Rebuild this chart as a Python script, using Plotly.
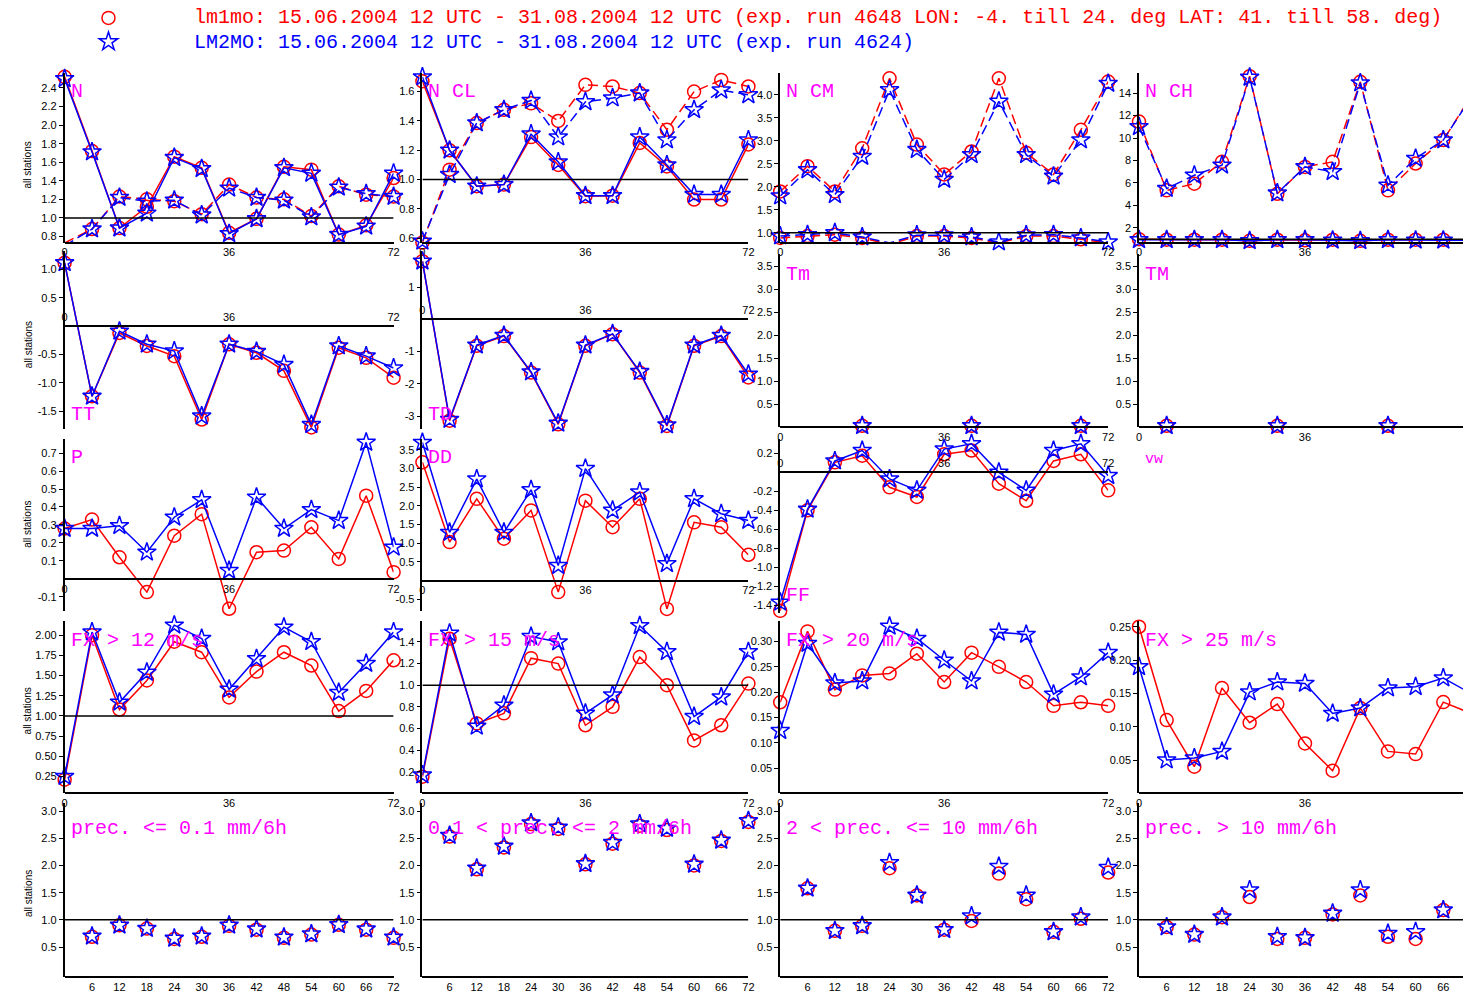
import plotly.graph_objects as go

W, H = 1469, 995
HOURS = [0, 6, 12, 18, 24, 30, 36, 42, 48, 54, 60, 66, 72]
HOURS_PREC = [6, 12, 18, 24, 30, 36, 42, 48, 54, 60, 66, 72]
TMIN_HOURS = [18, 42, 66]
TMAX_HOURS = [6, 30, 54]

HEADER_RED = "lm1mo: 15.06.2004 12 UTC - 31.08.2004 12 UTC (exp. run 4648 LON: -4. till 24. deg LAT: 41. till 58. deg)"
HEADER_BLUE = "LM2MO: 15.06.2004 12 UTC - 31.08.2004 12 UTC (exp. run 4624)"

# ---- data (red = lm1mo, blue = LM2MO) ----
N_red_a = [2.52, 1.72, 0.89, 1.12, 1.66, 1.54, 0.84, 0.99, 1.55, 1.52, 0.82, 0.92, 1.43]
N_blue_a = [2.50, 1.71, 0.89, 1.05, 1.65, 1.53, 0.83, 0.99, 1.54, 1.48, 0.82, 0.91, 1.48]
N_red_b = [0.73, 0.88, 1.23, 1.20, 1.18, 1.04, 1.36, 1.22, 1.20, 1.02, 1.34, 1.25, 1.23]
N_blue_b = [0.70, 0.88, 1.22, 1.18, 1.19, 1.03, 1.32, 1.22, 1.19, 1.01, 1.33, 1.26, 1.23]

NCL_red_a = [1.67, 1.20, 0.955, 0.966, 1.29, 1.10, 0.887, 0.89, 1.25, 1.09, 0.864, 0.864, 1.24]
NCL_blue_a = [1.70, 1.20, 0.955, 0.966, 1.31, 1.12, 0.89, 0.89, 1.29, 1.10, 0.898, 0.898, 1.27]
NCL_red_b = [0.571, 1.068, 1.386, 1.476, 1.52, 1.40, 1.646, 1.635, 1.59, 1.34, 1.60, 1.68, 1.635]
NCL_blue_b = [0.58, 1.034, 1.386, 1.476, 1.54, 1.29, 1.53, 1.556, 1.59, 1.27, 1.476, 1.61, 1.578]

NCM_red_a = [1.90, 2.45, 1.90, 2.84, 4.36, 2.92, 2.27, 2.77, 4.36, 2.74, 2.27, 3.24, 4.29]
NCM_blue_a = [1.80, 2.37, 1.83, 2.66, 4.11, 2.81, 2.16, 2.70, 3.86, 2.70, 2.23, 3.02, 4.25]
NCM_red_b = [0.89, 0.93, 0.96, 0.89, 0.75, 0.93, 0.93, 0.89, 0.78, 0.93, 0.93, 0.86, 0.78]
NCM_blue_b = [0.93, 0.96, 1.00, 0.91, 0.78, 0.95, 0.95, 0.91, 0.80, 0.95, 0.96, 0.89, 0.80]

NCH_red_a = [11.46, 5.34, 5.94, 7.88, 15.5, 5.04, 7.43, 7.88, 15.0, 5.34, 7.73, 9.82, 13.7]
NCH_blue_a = [11.0, 5.5, 6.69, 7.58, 15.4, 5.1, 7.43, 7.0, 14.9, 5.79, 8.18, 9.82, 13.6]
NCH_red_b = [1.0, 0.95, 0.95, 0.95, 0.85, 0.95, 0.9, 0.95, 0.85, 0.95, 0.95, 0.95, 0.95]
NCH_blue_b = [0.95, 0.95, 0.95, 0.95, 0.85, 0.95, 0.95, 0.9, 0.85, 0.95, 0.9, 0.9, 0.9]

TT_red = [1.12, -1.24, -0.12, -0.35, -0.53, -1.65, -0.32, -0.47, -0.79, -1.79, -0.38, -0.56, -0.91]
TT_blue = [1.12, -1.24, -0.09, -0.32, -0.44, -1.59, -0.32, -0.45, -0.68, -1.74, -0.35, -0.53, -0.74]

TD_red = [1.80, -3.14, -0.82, -0.52, -1.65, -3.25, -0.82, -0.46, -1.65, -3.30, -0.82, -0.52, -1.80]
TD_blue = [1.80, -3.10, -0.80, -0.50, -1.63, -3.22, -0.80, -0.45, -1.62, -3.27, -0.80, -0.50, -1.70]

Tm_red = [0.03, 0.03, 0.03]
Tm_blue = [0.03, 0.03, 0.03]
TM_red = [0.03, 0.03, 0.03]
TM_blue = [0.03, 0.03, 0.03]

P_red = [0.28, 0.33, 0.12, -0.074, 0.24, 0.36, -0.167, 0.148, 0.157, 0.287, 0.111, 0.463, 0.037]
P_blue = [0.28, 0.28, 0.296, 0.148, 0.343, 0.44, 0.046, 0.454, 0.28, 0.385, 0.324, 0.76, 0.176]

DD_red = [3.17, 1.03, 2.19, 1.12, 1.88, -0.31, 2.14, 1.43, 2.19, -0.76, 1.56, 1.43, 0.69]
DD_blue = [3.70, 1.29, 2.72, 1.29, 2.43, 0.40, 3.00, 1.88, 2.37, 0.45, 2.19, 1.79, 1.61]

FF_red = [-1.46, -0.40, 0.105, 0.175, -0.158, -0.26, 0.19, 0.23, -0.12, -0.30, 0.12, 0.19, -0.19]
FF_blue = [-1.37, -0.39, 0.12, 0.23, -0.07, -0.19, 0.245, 0.30, 0.0, -0.19, 0.23, 0.30, -0.035]

FX12_red = [0.21, 2.0, 1.08, 1.44, 1.92, 1.79, 1.23, 1.55, 1.79, 1.625, 1.06, 1.31, 1.69]
FX12_blue = [0.25, 2.04, 1.17, 1.54, 2.125, 1.96, 1.33, 1.71, 2.10, 1.92, 1.29, 1.65, 2.04]

FX15_red = [0.155, 1.43, 0.647, 0.74, 1.25, 1.20, 0.63, 0.80, 1.26, 1.0, 0.49, 0.63, 1.015]
FX15_blue = [0.17, 1.48, 0.62, 0.815, 1.45, 1.40, 0.74, 0.91, 1.55, 1.31, 0.71, 0.89, 1.31]

FX20_red = [0.18, 0.32, 0.205, 0.233, 0.237, 0.276, 0.22, 0.278, 0.25, 0.22, 0.173, 0.18, 0.173]
FX20_blue = [0.124, 0.296, 0.218, 0.222, 0.33, 0.306, 0.263, 0.222, 0.318, 0.314, 0.196, 0.23, 0.278]

FX25_red = [0.25, 0.11, 0.04, 0.158, 0.106, 0.134, 0.075, 0.034, 0.128, 0.063, 0.059, 0.137, 0.12]
FX25_blue = [0.19, 0.05, 0.053, 0.063, 0.152, 0.167, 0.165, 0.12, 0.128, 0.158, 0.16, 0.173, 0.15]

PR01_red = [0.69, 0.90, 0.84, 0.65, 0.69, 0.89, 0.82, 0.67, 0.73, 0.91, 0.82, 0.67]
PR01_blue = [0.70, 0.90, 0.84, 0.66, 0.70, 0.90, 0.83, 0.68, 0.74, 0.91, 0.83, 0.68]
PR2_red = [2.53, 1.93, 2.33, 2.76, 2.67, 2.02, 2.40, 2.73, 2.65, 2.00, 2.45, 2.80]
PR2_blue = [2.55, 1.95, 2.35, 2.78, 2.70, 2.03, 2.42, 2.76, 2.68, 2.02, 2.46, 2.82]
PR10_red = [1.58, 0.80, 0.89, 1.95, 1.45, 0.82, 0.98, 1.85, 1.38, 0.78, 1.02, 1.87]
PR10_blue = [1.58, 0.80, 0.89, 2.05, 1.45, 0.82, 1.07, 1.98, 1.45, 0.78, 1.05, 1.96]
PRG10_red = [0.87, 0.73, 1.05, 1.42, 0.65, 0.67, 1.10, 1.45, 0.69, 0.65, 1.18, 1.50]
PRG10_blue = [0.87, 0.73, 1.05, 1.55, 0.69, 0.67, 1.12, 1.55, 0.75, 0.78, 1.18, 1.56]

# ---- styling / layout ----
RED, BLUE, MAG = "#ff0000", "#0000ff", "#ff00ff"
MONO = "Liberation Mono"
SANS = "Liberation Sans"

COLS = [(62, 393, 72.0), (422, 750, 72.0), (782, 1112, 72.0),
        (1143, 1469, 72.0 * (1469 - 1143) / (1477 - 1143))]


def frange(a, b, s):
    out, v = [], a
    while v <= b + 1e-9:
        out.append(round(v, 6))
        v += s
    return out


def S(x, y, col, dash="solid", mode="lines+markers"):
    return dict(x=x, y=y, col=col, dash=dash, mode=mode)


panels = [
    dict(c=0, top=73, bot=243, yr=(0.735, 2.563), tv=frange(0.8, 2.4, 0.2), fmt="{:.1f}", ax=None, ref=1.0,
         label="N", ly=92, series=[S(HOURS, N_red_a, RED), S(HOURS, N_blue_a, BLUE),
                                   S(HOURS, N_red_b, RED, "dash"), S(HOURS, N_blue_b, BLUE, "dash")]),
    dict(c=1, top=73, bot=243, yr=(0.571, 1.728), tv=frange(0.6, 1.6, 0.2), fmt="{:.1f}", ax=None, ref=1.0,
         label="N CL", ly=92, series=[S(HOURS, NCL_red_a, RED), S(HOURS, NCL_blue_a, BLUE),
                                      S(HOURS, NCL_red_b, RED, "dash"), S(HOURS, NCL_blue_b, BLUE, "dash")]),
    dict(c=2, top=73, bot=243, yr=(0.79, 4.48), tv=frange(1.0, 4.0, 0.5), fmt="{:.1f}", ax=None, ref=1.0,
         label="N CM", ly=92, series=[S(HOURS, NCM_red_a, RED, "dash"), S(HOURS, NCM_blue_a, BLUE, "dash"),
                                      S(HOURS, NCM_red_b, RED, "dash"), S(HOURS, NCM_blue_b, BLUE, "dash")]),
    dict(c=3, top=73, bot=243, yr=(0.7, 15.8), tv=frange(2, 14, 2), fmt="{:.0f}", ax=None, ref=1.0,
         label="N CH", ly=92, series=[S(HOURS, NCH_red_a, RED, "dash"), S(HOURS, NCH_blue_a, BLUE, "dash"),
                                      S(HOURS, NCH_red_b, RED), S(HOURS, NCH_blue_b, BLUE)]),
    dict(c=0, top=252, bot=430, yr=(-1.82, 1.32), tv=[-1.5, -1.0, -0.5, 0.5, 1.0], fmt="{:.1f}", ax=0, side="top",
         ref=None, label="TT", ly=415, series=[S(HOURS, TT_red, RED), S(HOURS, TT_blue, BLUE)]),
    dict(c=1, top=252, bot=430, yr=(-3.40, 2.10), tv=[-3, -2, -1, 1], fmt="{:.0f}", ax=0, side="top",
         ref=None, label="TD", ly=415, series=[S(HOURS, TD_red, RED), S(HOURS, TD_blue, BLUE)]),
    dict(c=2, top=255, bot=428, yr=(0, 3.76), tv=frange(0.5, 3.5, 0.5), fmt="{:.1f}", ax=0,
         ref=None, label="Tm", ly=275, series=[S(TMIN_HOURS, Tm_red, RED, mode="markers"),
                                               S(TMIN_HOURS, Tm_blue, BLUE, mode="markers")]),
    dict(c=3, top=255, bot=428, yr=(0, 3.76), tv=frange(0.5, 3.5, 0.5), fmt="{:.1f}", ax=0,
         ref=None, label="TM", ly=275, series=[S(TMAX_HOURS, TM_red, RED, mode="markers"),
                                               S(TMAX_HOURS, TM_blue, BLUE, mode="markers")]),
    dict(c=0, top=440, bot=612, yr=(-0.178, 0.778), tv=[-0.1, 0.1, 0.2, 0.3, 0.4, 0.5, 0.6, 0.7], fmt="{:.1f}",
         ax=0, ref=None, label="P", ly=458, series=[S(HOURS, P_red, RED), S(HOURS, P_blue, BLUE)]),
    dict(c=1, top=440, bot=612, yr=(-0.81, 3.79), tv=[-0.5, 0.5, 1.0, 1.5, 2.0, 2.5, 3.0, 3.5], fmt="{:.1f}",
         ax=0, ref=None, label="DD", ly=458, series=[S(HOURS, DD_red, RED), S(HOURS, DD_blue, BLUE)]),
    dict(c=2, top=440, bot=614, yr=(-1.48, 0.35), tv=[-1.4, -1.2, -1.0, -0.8, -0.6, -0.4, -0.2, 0.2], fmt="{:.1f}",
         ax=0, side="top", ref=None, label="FF", ly=597, series=[S(HOURS, FF_red, RED), S(HOURS, FF_blue, BLUE)]),
    dict(c=3, top=440, bot=615, yr=(1036, -1048), tv=[-1000, -750, -500, -250, 250, 500, 750, 1000], fmt="{:.0f}",
         ax=0, ref=None, label="vw", ly=460, lsize=15, series=[]),
    dict(c=0, top=622, bot=795, yr=(0.04, 2.18), tv=frange(0.25, 2.0, 0.25), fmt="{:.2f}", ax=None, ref=1.0,
         label="FX > 12 m/s", ly=642, series=[S(HOURS, FX12_red, RED), S(HOURS, FX12_blue, BLUE)]),
    dict(c=1, top=622, bot=795, yr=(0.0, 1.596), tv=frange(0.2, 1.4, 0.2), fmt="{:.1f}", ax=None, ref=1.0,
         label="FX > 15 m/s", ly=642, series=[S(HOURS, FX15_red, RED), S(HOURS, FX15_blue, BLUE)]),
    dict(c=2, top=622, bot=795, yr=(0.0, 0.341), tv=frange(0.05, 0.30, 0.05), fmt="{:.2f}", ax=None, ref=None,
         label="FX > 20 m/s", ly=642, series=[S(HOURS, FX20_red, RED), S(HOURS, FX20_blue, BLUE)]),
    dict(c=3, top=622, bot=795, yr=(0.0, 0.259), tv=frange(0.05, 0.25, 0.05), fmt="{:.2f}", ax=None, ref=None,
         label="FX > 25 m/s", ly=642, series=[S(HOURS, FX25_red, RED), S(HOURS, FX25_blue, BLUE)]),
    dict(c=0, top=805, bot=979, yr=(-0.05, 3.14), tv=frange(0.5, 3.0, 0.5), fmt="{:.1f}", ax=None, ref=1.0,
         xt=HOURS_PREC, label="prec. <= 0.1 mm/6h", ly=830,
         series=[S(HOURS_PREC, PR01_red, RED, mode="markers"), S(HOURS_PREC, PR01_blue, BLUE, mode="markers")]),
    dict(c=1, top=805, bot=979, yr=(-0.05, 3.14), tv=frange(0.5, 3.0, 0.5), fmt="{:.1f}", ax=None, ref=1.0,
         xt=HOURS_PREC, label="0.1 < prec. <= 2 mm/6h", ly=830,
         series=[S(HOURS_PREC, PR2_red, RED, mode="markers"), S(HOURS_PREC, PR2_blue, BLUE, mode="markers")]),
    dict(c=2, top=805, bot=979, yr=(-0.05, 3.14), tv=frange(0.5, 3.0, 0.5), fmt="{:.1f}", ax=None, ref=1.0,
         xt=HOURS_PREC, label="2 < prec. <= 10 mm/6h", ly=830,
         series=[S(HOURS_PREC, PR10_red, RED, mode="markers"), S(HOURS_PREC, PR10_blue, BLUE, mode="markers")]),
    dict(c=3, top=805, bot=979, yr=(-0.05, 3.14), tv=frange(0.5, 3.0, 0.5), fmt="{:.1f}", ax=None, ref=1.0,
         xt=HOURS_PREC, label="prec. > 10 mm/6h", ly=830,
         series=[S(HOURS_PREC, PRG10_red, RED, mode="markers"), S(HOURS_PREC, PRG10_blue, BLUE, mode="markers")]),
]

fig = go.Figure()
layout = dict(width=W, height=H, autosize=False, margin=dict(l=0, r=0, t=0, b=0),
              paper_bgcolor="white", plot_bgcolor="white", showlegend=True)
shapes, annotations = [], []

for i, p in enumerate(panels, start=1):
    sfx = "" if i == 1 else str(i)
    xl, xr, xmax = COLS[p["c"]]
    y0, y1 = p["yr"]
    top, bot = p["top"], p["bot"]
    axv = y0 if p["ax"] is None else p["ax"]
    frac = (axv - y0) / (y1 - y0)
    ax_px = bot - frac * (bot - top)
    xt = p.get("xt", [0, 36, 72])
    layout["xaxis" + sfx] = dict(
        domain=[xl / W, xr / W], range=[0, xmax], anchor="free", position=max(0.0, min(1.0, 1 - ax_px / H)),
        side=p.get("side", "bottom"), showline=True, linecolor="black", linewidth=1.5,
        tickvals=xt, ticktext=[str(v) for v in xt], ticks="", showgrid=False, zeroline=False,
        tickfont=dict(family=SANS, size=11, color="black"), fixedrange=True)
    layout["yaxis" + sfx] = dict(
        domain=[1 - bot / H, 1 - top / H], range=[y0, y1], anchor="x" + sfx,
        showline=True, linecolor="black", linewidth=1.5, ticks="outside", ticklen=4, tickcolor="black",
        tickvals=p["tv"], ticktext=[p["fmt"].format(v) for v in p["tv"]], showgrid=False, zeroline=False,
        tickfont=dict(family=SANS, size=11, color="black"), fixedrange=True)
    for s in p["series"]:
        if s["col"] == RED:
            mk = dict(symbol="circle-open", size=13, color=RED, line=dict(width=1.5, color=RED))
        else:
            mk = dict(symbol="star-open", size=14, color=BLUE, line=dict(width=1.5, color=BLUE))
        fig.add_trace(go.Scatter(
            x=s["x"], y=s["y"], mode=s["mode"], xaxis="x" + sfx, yaxis="y" + sfx,
            line=dict(color=s["col"], width=1.5, dash="10px,5px" if s["dash"] == "dash" else "solid"),
            marker=mk, cliponaxis=False, showlegend=False, hoverinfo="skip"))
    if p["ref"] is not None:
        shapes.append(dict(type="line", xref="x" + sfx, yref="y" + sfx, x0=0, x1=72, y0=p["ref"], y1=p["ref"],
                           line=dict(color="black", width=1.5)))
    annotations.append(dict(text=p["label"], x=(xl + 4) / W, y=1 - p["ly"] / H, xref="paper", yref="paper",
                            xanchor="left", yanchor="middle", showarrow=False,
                            font=dict(family=MONO, size=p.get("lsize", 20), color=MAG)))

for yc in [165, 345, 525, 712, 895]:
    annotations.append(dict(text="all stations", x=25 / W, y=1 - yc / H, xref="paper", yref="paper",
                            textangle=-90, showarrow=False, xanchor="center", yanchor="middle",
                            font=dict(family=SANS, size=10, color="black")))

# header texts
for txt, col, yc in [(HEADER_RED, RED, 18), (HEADER_BLUE, BLUE, 43)]:
    annotations.append(dict(text=txt, x=190 / W, y=1 - yc / H, xref="paper", yref="paper",
                            xanchor="left", yanchor="middle", showarrow=False,
                            font=dict(family=MONO, size=20, color=col)))

# legend keys (symbols) for the header lines
fig.add_trace(go.Scatter(x=[None], y=[None], mode="markers", name="\u00a0",
                         marker=dict(symbol="circle-open", size=13, color=RED, line=dict(width=1.5, color=RED)),
                         showlegend=True, hoverinfo="skip"))
fig.add_trace(go.Scatter(x=[None], y=[None], mode="markers", name="\u00a0",
                         marker=dict(symbol="star-open", size=14, color=BLUE, line=dict(width=1.5, color=BLUE)),
                         showlegend=True, hoverinfo="skip"))

layout["legend"] = dict(x=86 / W, y=1 - 1 / H, xanchor="left", yanchor="top", bgcolor="rgba(0,0,0,0)",
                        font=dict(family=MONO, size=16, color="black"), itemwidth=30, tracegroupgap=0,
                        borderwidth=0)
layout["shapes"] = shapes
layout["annotations"] = annotations
fig.update_layout(**layout)
fig.write_html("out.html", config={"displayModeBar": False},
               post_script="document.body.style.margin='0';document.body.style.padding='0';"
                           "document.body.style.overflow='hidden';")
